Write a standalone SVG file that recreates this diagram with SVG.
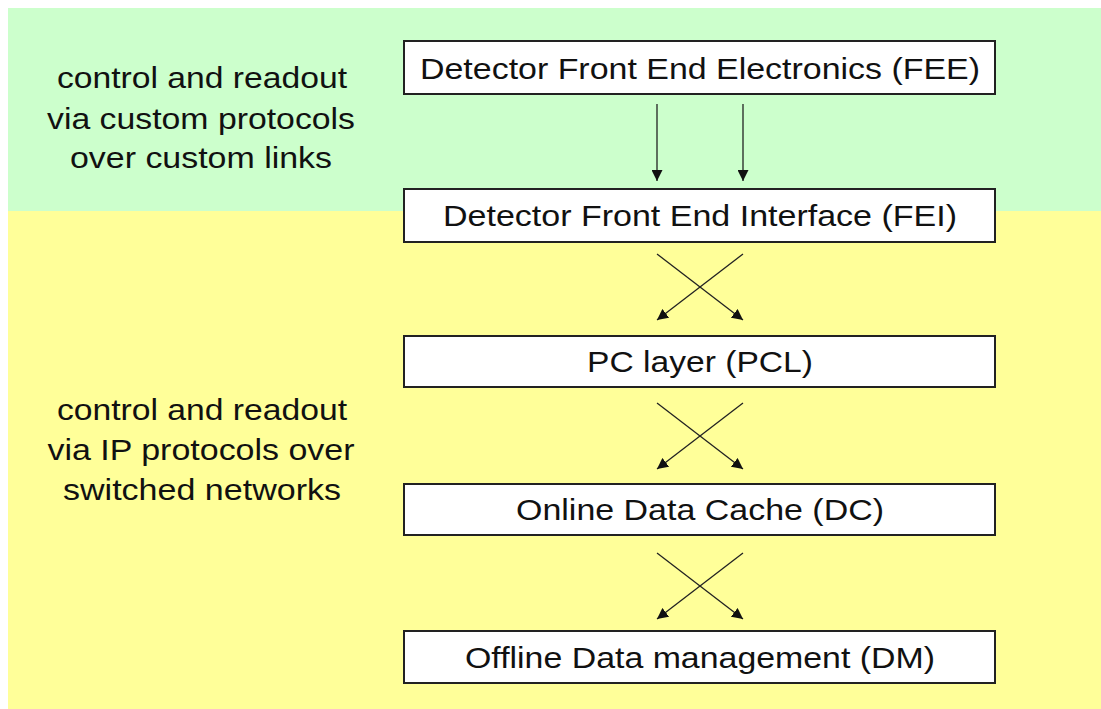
<svg xmlns="http://www.w3.org/2000/svg" width="1101" height="709" viewBox="0 0 1101 709">
<defs>
<marker id="ah" viewBox="0 0 10 10" refX="10" refY="5" markerWidth="11" markerHeight="11" markerUnits="userSpaceOnUse" orient="auto">
<path d="M0,0 L10,5 L0,10 z" fill="#111"/>
</marker>
<style>
.box{fill:#fff;stroke:#222;stroke-width:2}
.t{font-family:"Liberation Sans",Arial,sans-serif;font-size:30px;fill:#111;text-anchor:middle}
.c{stroke:#222;stroke-width:1.3;fill:none;marker-end:url(#ah)}
</style>
</defs>
<rect x="0" y="0" width="1101" height="709" fill="#fff"/>
<rect x="8" y="8" width="1093" height="203" fill="#ccffcc"/>
<rect x="8" y="211" width="1093" height="498" fill="#ffff99"/>
<g id="label-custom">
<text class="t" x="202" y="88" textLength="290" lengthAdjust="spacingAndGlyphs">control and readout</text>
<text class="t" x="201" y="129" textLength="308" lengthAdjust="spacingAndGlyphs">via custom protocols</text>
<text class="t" x="201" y="168" textLength="262" lengthAdjust="spacingAndGlyphs">over custom links</text>
</g>
<g id="label-ip">
<text class="t" x="202" y="420" textLength="290" lengthAdjust="spacingAndGlyphs">control and readout</text>
<text class="t" x="201" y="460" textLength="307" lengthAdjust="spacingAndGlyphs">via IP protocols over</text>
<text class="t" x="202" y="500" textLength="278" lengthAdjust="spacingAndGlyphs">switched networks</text>
</g>
<g id="connectors">
<line class="c" x1="657" y1="104" x2="657" y2="181"/>
<line class="c" x1="743" y1="104" x2="743" y2="181"/>
<line class="c" x1="743" y1="254" x2="657" y2="320"/>
<line class="c" x1="657" y1="254" x2="743" y2="320"/>
<line class="c" x1="743" y1="403" x2="657" y2="469"/>
<line class="c" x1="657" y1="403" x2="743" y2="469"/>
<line class="c" x1="743" y1="553" x2="657" y2="619"/>
<line class="c" x1="657" y1="553" x2="743" y2="619"/>
</g>
<g id="fee">
<rect class="box" x="404" y="41" width="591" height="53"/>
<text class="t" x="700" y="79" textLength="560" lengthAdjust="spacingAndGlyphs">Detector Front End Electronics (FEE)</text>
</g>
<g id="fei">
<rect class="box" x="404" y="189" width="591" height="53"/>
<text class="t" x="700" y="226" textLength="514" lengthAdjust="spacingAndGlyphs">Detector Front End Interface (FEI)</text>
</g>
<g id="pcl">
<rect class="box" x="404" y="336" width="591" height="51"/>
<text class="t" x="700" y="372" textLength="226" lengthAdjust="spacingAndGlyphs">PC layer (PCL)</text>
</g>
<g id="dc">
<rect class="box" x="404" y="484" width="591" height="51"/>
<text class="t" x="700" y="520" textLength="368" lengthAdjust="spacingAndGlyphs">Online Data Cache (DC)</text>
</g>
<g id="dm">
<rect class="box" x="404" y="631" width="591" height="52"/>
<text class="t" x="700" y="668" textLength="470" lengthAdjust="spacingAndGlyphs">Offline Data management (DM)</text>
</g>
</svg>
